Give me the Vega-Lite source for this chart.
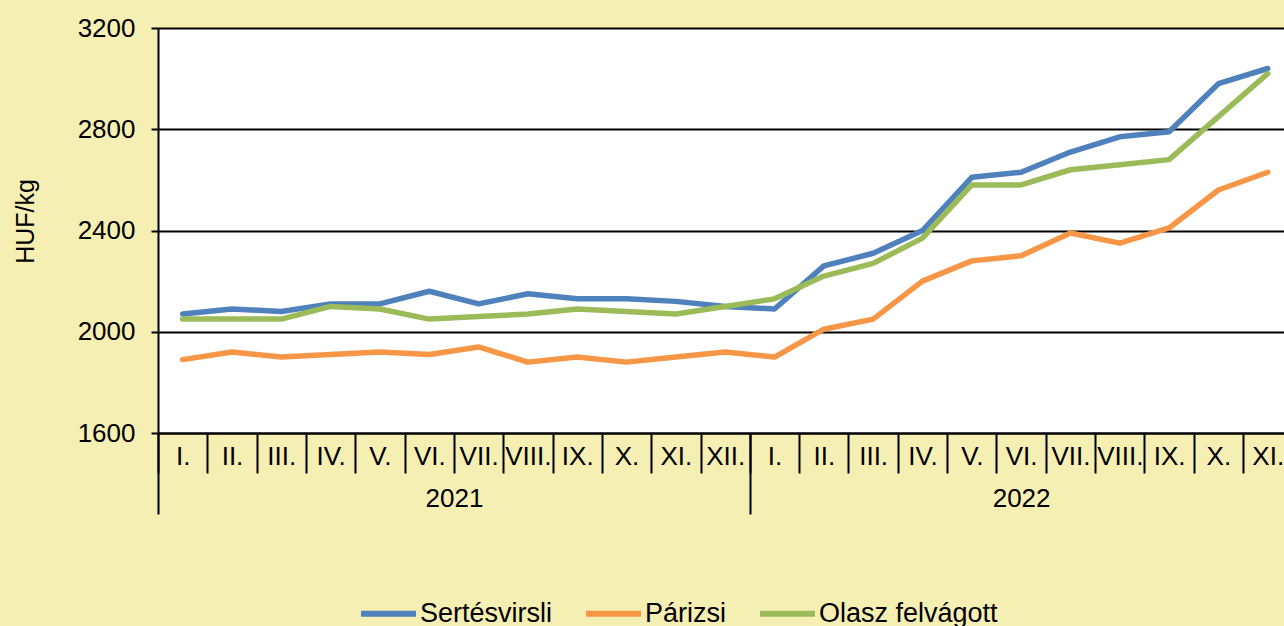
{
  "$schema": "https://vega.github.io/schema/vega-lite/v6.json",
  "width": 1126,
  "height": 405,
  "autosize": {"type": "none"},
  "padding": {"left": 158, "top": 28, "right": 0, "bottom": 193},
  "background": "#F5EFB4",
  "config": {
    "font": "Liberation Sans",
    "view": {"fill": "white", "stroke": null},
    "axis": {"labelColor": "black", "titleColor": "black", "labelFont": "Liberation Sans", "titleFont": "Liberation Sans"}
  },
  "data": {
    "values": [
      {"idx": 0, "ev": "2021", "honap": "I.", "termek": "Sertésvirsli", "ar": 2070},
      {"idx": 1, "ev": "2021", "honap": "II.", "termek": "Sertésvirsli", "ar": 2090},
      {"idx": 2, "ev": "2021", "honap": "III.", "termek": "Sertésvirsli", "ar": 2080},
      {"idx": 3, "ev": "2021", "honap": "IV.", "termek": "Sertésvirsli", "ar": 2110},
      {"idx": 4, "ev": "2021", "honap": "V.", "termek": "Sertésvirsli", "ar": 2110},
      {"idx": 5, "ev": "2021", "honap": "VI.", "termek": "Sertésvirsli", "ar": 2160},
      {"idx": 6, "ev": "2021", "honap": "VII.", "termek": "Sertésvirsli", "ar": 2110},
      {"idx": 7, "ev": "2021", "honap": "VIII.", "termek": "Sertésvirsli", "ar": 2150},
      {"idx": 8, "ev": "2021", "honap": "IX.", "termek": "Sertésvirsli", "ar": 2130},
      {"idx": 9, "ev": "2021", "honap": "X.", "termek": "Sertésvirsli", "ar": 2130},
      {"idx": 10, "ev": "2021", "honap": "XI.", "termek": "Sertésvirsli", "ar": 2120},
      {"idx": 11, "ev": "2021", "honap": "XII.", "termek": "Sertésvirsli", "ar": 2100},
      {"idx": 12, "ev": "2022", "honap": "I.", "termek": "Sertésvirsli", "ar": 2090},
      {"idx": 13, "ev": "2022", "honap": "II.", "termek": "Sertésvirsli", "ar": 2260},
      {"idx": 14, "ev": "2022", "honap": "III.", "termek": "Sertésvirsli", "ar": 2310},
      {"idx": 15, "ev": "2022", "honap": "IV.", "termek": "Sertésvirsli", "ar": 2400},
      {"idx": 16, "ev": "2022", "honap": "V.", "termek": "Sertésvirsli", "ar": 2610},
      {"idx": 17, "ev": "2022", "honap": "VI.", "termek": "Sertésvirsli", "ar": 2630},
      {"idx": 18, "ev": "2022", "honap": "VII.", "termek": "Sertésvirsli", "ar": 2710},
      {"idx": 19, "ev": "2022", "honap": "VIII.", "termek": "Sertésvirsli", "ar": 2770},
      {"idx": 20, "ev": "2022", "honap": "IX.", "termek": "Sertésvirsli", "ar": 2790},
      {"idx": 21, "ev": "2022", "honap": "X.", "termek": "Sertésvirsli", "ar": 2980},
      {"idx": 22, "ev": "2022", "honap": "XI.", "termek": "Sertésvirsli", "ar": 3040},
      {"idx": 0, "ev": "2021", "honap": "I.", "termek": "Párizsi", "ar": 1890},
      {"idx": 1, "ev": "2021", "honap": "II.", "termek": "Párizsi", "ar": 1920},
      {"idx": 2, "ev": "2021", "honap": "III.", "termek": "Párizsi", "ar": 1900},
      {"idx": 3, "ev": "2021", "honap": "IV.", "termek": "Párizsi", "ar": 1910},
      {"idx": 4, "ev": "2021", "honap": "V.", "termek": "Párizsi", "ar": 1920},
      {"idx": 5, "ev": "2021", "honap": "VI.", "termek": "Párizsi", "ar": 1910},
      {"idx": 6, "ev": "2021", "honap": "VII.", "termek": "Párizsi", "ar": 1940},
      {"idx": 7, "ev": "2021", "honap": "VIII.", "termek": "Párizsi", "ar": 1880},
      {"idx": 8, "ev": "2021", "honap": "IX.", "termek": "Párizsi", "ar": 1900},
      {"idx": 9, "ev": "2021", "honap": "X.", "termek": "Párizsi", "ar": 1880},
      {"idx": 10, "ev": "2021", "honap": "XI.", "termek": "Párizsi", "ar": 1900},
      {"idx": 11, "ev": "2021", "honap": "XII.", "termek": "Párizsi", "ar": 1920},
      {"idx": 12, "ev": "2022", "honap": "I.", "termek": "Párizsi", "ar": 1900},
      {"idx": 13, "ev": "2022", "honap": "II.", "termek": "Párizsi", "ar": 2010},
      {"idx": 14, "ev": "2022", "honap": "III.", "termek": "Párizsi", "ar": 2050},
      {"idx": 15, "ev": "2022", "honap": "IV.", "termek": "Párizsi", "ar": 2200},
      {"idx": 16, "ev": "2022", "honap": "V.", "termek": "Párizsi", "ar": 2280},
      {"idx": 17, "ev": "2022", "honap": "VI.", "termek": "Párizsi", "ar": 2300},
      {"idx": 18, "ev": "2022", "honap": "VII.", "termek": "Párizsi", "ar": 2390},
      {"idx": 19, "ev": "2022", "honap": "VIII.", "termek": "Párizsi", "ar": 2350},
      {"idx": 20, "ev": "2022", "honap": "IX.", "termek": "Párizsi", "ar": 2410},
      {"idx": 21, "ev": "2022", "honap": "X.", "termek": "Párizsi", "ar": 2560},
      {"idx": 22, "ev": "2022", "honap": "XI.", "termek": "Párizsi", "ar": 2630},
      {"idx": 0, "ev": "2021", "honap": "I.", "termek": "Olasz felvágott", "ar": 2050},
      {"idx": 1, "ev": "2021", "honap": "II.", "termek": "Olasz felvágott", "ar": 2050},
      {"idx": 2, "ev": "2021", "honap": "III.", "termek": "Olasz felvágott", "ar": 2050},
      {"idx": 3, "ev": "2021", "honap": "IV.", "termek": "Olasz felvágott", "ar": 2100},
      {"idx": 4, "ev": "2021", "honap": "V.", "termek": "Olasz felvágott", "ar": 2090},
      {"idx": 5, "ev": "2021", "honap": "VI.", "termek": "Olasz felvágott", "ar": 2050},
      {"idx": 6, "ev": "2021", "honap": "VII.", "termek": "Olasz felvágott", "ar": 2060},
      {"idx": 7, "ev": "2021", "honap": "VIII.", "termek": "Olasz felvágott", "ar": 2070},
      {"idx": 8, "ev": "2021", "honap": "IX.", "termek": "Olasz felvágott", "ar": 2090},
      {"idx": 9, "ev": "2021", "honap": "X.", "termek": "Olasz felvágott", "ar": 2080},
      {"idx": 10, "ev": "2021", "honap": "XI.", "termek": "Olasz felvágott", "ar": 2070},
      {"idx": 11, "ev": "2021", "honap": "XII.", "termek": "Olasz felvágott", "ar": 2100},
      {"idx": 12, "ev": "2022", "honap": "I.", "termek": "Olasz felvágott", "ar": 2130},
      {"idx": 13, "ev": "2022", "honap": "II.", "termek": "Olasz felvágott", "ar": 2220},
      {"idx": 14, "ev": "2022", "honap": "III.", "termek": "Olasz felvágott", "ar": 2270},
      {"idx": 15, "ev": "2022", "honap": "IV.", "termek": "Olasz felvágott", "ar": 2370},
      {"idx": 16, "ev": "2022", "honap": "V.", "termek": "Olasz felvágott", "ar": 2580},
      {"idx": 17, "ev": "2022", "honap": "VI.", "termek": "Olasz felvágott", "ar": 2580},
      {"idx": 18, "ev": "2022", "honap": "VII.", "termek": "Olasz felvágott", "ar": 2640},
      {"idx": 19, "ev": "2022", "honap": "VIII.", "termek": "Olasz felvágott", "ar": 2660},
      {"idx": 20, "ev": "2022", "honap": "IX.", "termek": "Olasz felvágott", "ar": 2680},
      {"idx": 21, "ev": "2022", "honap": "X.", "termek": "Olasz felvágott", "ar": 2850},
      {"idx": 22, "ev": "2022", "honap": "XI.", "termek": "Olasz felvágott", "ar": 3020}
    ]
  },
  "resolve": {"axis": {"x": "independent"}},
  "layer": [
    {
      "mark": {"type": "line", "strokeWidth": 5.5, "strokeJoin": "round", "strokeCap": "round"},
      "encoding": {
        "x": {
          "field": "idx", "type": "quantitative",
          "scale": {"domain": [-0.5, 22.33], "nice": false, "zero": false},
          "axis": {
            "orient": "bottom",
            "title": null, "values": [0,1,2,3,4,5,6,7,8,9,10,11,12,13,14,15,16,17,18,19,20,21,22],
            "labelExpr": "['I.','II.','III.','IV.','V.','VI.','VII.','VIII.','IX.','X.','XI.','XII.'][datum.value % 12]",
            "ticks": false, "tickSize": 0, "grid": false,
            "labelFontSize": 26, "labelBaseline": "top", "labelPadding": 10, "labelAlign": "center",
            "labelFlush": false, "labelOverlap": false,
            "domain": true, "domainColor": "black", "domainWidth": 2
          }
        },
        "y": {
          "field": "ar", "type": "quantitative",
          "scale": {"domain": [1600, 3200], "nice": false, "zero": false},
          "axis": {
            "title": "HUF/kg", "values": [1600, 2000, 2400, 2800, 3200], "format": "d",
            "labelFontSize": 26, "labelPadding": 16, "labelFlush": false,
            "tickSize": 7, "tickColor": "black", "tickWidth": 2,
            "domainColor": "black", "domainWidth": 2,
            "grid": true, "gridColor": "black", "gridWidth": 2, "gridOpacity": 1,
            "titleFontSize": 25, "titleFontWeight": "normal", "titleAngle": -90,
            "titleX": -125, "titleY": 193, "titleBaseline": "alphabetic", "titleAlign": "center"
          }
        },
        "color": {
          "field": "termek", "type": "nominal",
          "scale": {"domain": ["Sertésvirsli", "Párizsi", "Olasz felvágott"], "range": ["#4F81BD", "#F79646", "#9BBB59"]},
          "legend": {
            "title": null, "orient": "none", "direction": "horizontal",
            "legendX": 200, "legendY": 555,
            "symbolType": "stroke", "symbolSize": 3025, "symbolStrokeWidth": 6,
            "labelFontSize": 27, "labelOffset": 1, "labelColor": "black", "labelLimit": 0,
            "columnPadding": 21, "padding": 0
          }
        }
      }
    },
    {
      "mark": {"type": "point", "opacity": 0},
      "encoding": {
        "x": {
          "field": "idx", "type": "quantitative",
          "axis": {
            "orient": "bottom",
            "title": null, "values": [-0.5,0.5,1.5,2.5,3.5,4.5,5.5,6.5,7.5,8.5,9.5,10.5,11.5,12.5,13.5,14.5,15.5,16.5,17.5,18.5,19.5,20.5,21.5],
            "labels": false, "domain": false, "grid": false,
            "ticks": true, "tickSize": 40, "tickColor": "black", "tickWidth": 2
          }
        }
      }
    },
    {
      "mark": {"type": "point", "opacity": 0},
      "encoding": {
        "x": {
          "field": "idx", "type": "quantitative",
          "axis": {
            "orient": "bottom",
            "title": null, "values": [-0.5, 11.5],
            "labels": false, "domain": false, "grid": false,
            "ticks": true, "tickSize": 81, "tickColor": "black", "tickWidth": 2
          }
        }
      }
    },
    {
      "mark": {"type": "point", "opacity": 0},
      "encoding": {
        "x": {
          "field": "idx", "type": "quantitative",
          "axis": {
            "orient": "bottom",
            "title": null, "values": [5.5, 17],
            "labelExpr": "datum.value < 11.5 ? '2021' : '2022'",
            "ticks": false, "tickSize": 0, "domain": false, "grid": false,
            "labelFontSize": 26, "labelBaseline": "top", "labelPadding": 52, "labelAlign": "center",
            "labelFlush": false, "labelOverlap": false
          }
        }
      }
    }
  ]
}
